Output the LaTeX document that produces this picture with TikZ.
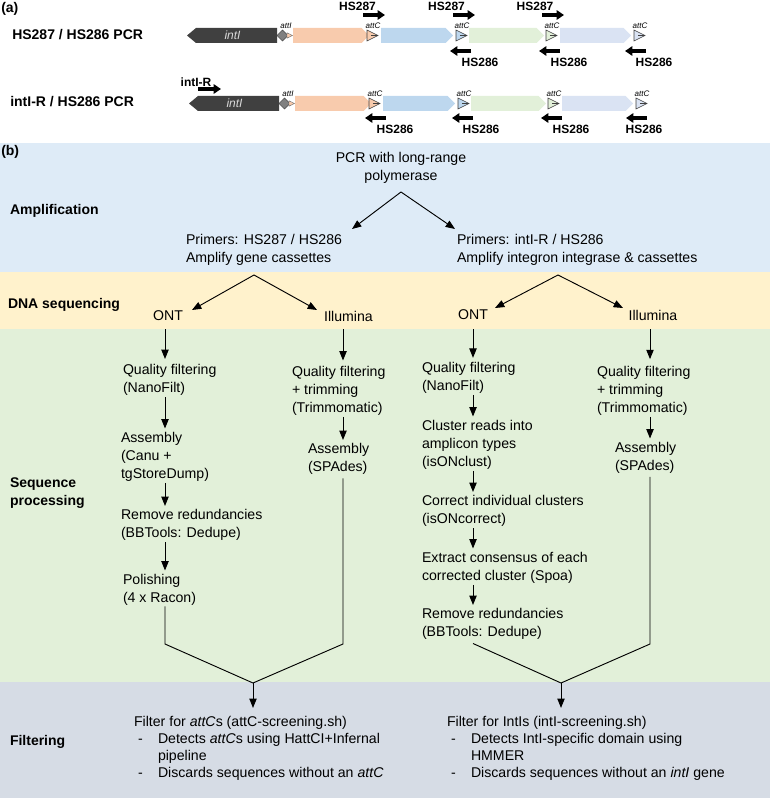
\documentclass[tikz,border=0pt]{standalone}
\usepackage{fontspec}
\setmainfont{Liberation Sans}
\usetikzlibrary{arrows.meta,calc}
\definecolor{ampC}{HTML}{DEEBF7}
\definecolor{seqC}{HTML}{FFF2CC}
\definecolor{procC}{HTML}{E2F0D9}
\definecolor{filtC}{HTML}{D6DCE5}
\definecolor{cOr}{HTML}{F8CBAD}
\definecolor{cBl}{HTML}{BDD7EE}
\definecolor{cGr}{HTML}{E2F0D9}
\definecolor{cLa}{HTML}{DAE3F3}
\definecolor{intC}{HTML}{404040}
\definecolor{attIC}{HTML}{808080}
\begin{document}
\begin{tikzpicture}[x=0.75pt,y=-0.75pt,
 txt/.style={inner sep=0pt,outer sep=0pt,font=\fontsize{10.6}{13.5}\selectfont,align=left,anchor=west},
 ftxt/.style={txt,font=\fontsize{10.6}{12.75}\selectfont},
 secl/.style={inner sep=0pt,outer sep=0pt,font=\fontsize{10.5}{13.5}\selectfont\bfseries,align=left,anchor=west},
 band/.style={inner sep=0pt,outer sep=0pt,minimum width=577.5pt,anchor=north west,draw=none},
 arr/.style={-{Triangle[length=7pt,width=5.5pt]},line width=0.7pt},
 va/.style={arr,shorten <=1.5pt,shorten >=2.5pt},
 ln/.style={line width=0.7pt},
 parr/.style={-{Triangle[length=5.5pt,width=7pt]},line width=2.3pt},
 plab/.style={inner sep=0pt,font=\fontsize{9}{10}\selectfont\bfseries},
 att/.style={inner sep=0pt,font=\fontsize{6}{7}\selectfont\itshape},
 intlab/.style={inner sep=0pt,font=\fontsize{9}{10}\selectfont\itshape,text=black!15},
 rowlab/.style={inner sep=0pt,font=\fontsize{10.5}{12}\selectfont\bfseries,anchor=west},
]
\useasboundingbox (0,0) rectangle (770,798);

% ---------------- (a) ----------------
\node[rowlab] (lbA) at (1,8.5) {(a)};
\node[rowlab] (rl1) at (12,34.5) {HS287 / HS286 PCR};
\node[rowlab] (rl2) at (10,101.5) {intI-R / HS286 PCR};

\foreach \r/\yy/\dx in {1/35.5/0,2/103.5/2}{
  \fill[intC] (187+\dx,\yy) -- (196+\dx,\yy-7.5) -- (277+\dx,\yy-7.5) -- (277+\dx,\yy+7.5) -- (196+\dx,\yy+7.5) -- cycle;
  \node[intlab] (intI\r) at (232.5+\dx,\yy) {intI};
  \foreach \xa/\xb/\cc in {293/369/cOr, 381/453/cBl, 469/544/cGr, 560/631/cLa}{
    \fill[\cc] (\xa+\dx,\yy-7.5) -- (\xb-7.5+\dx,\yy-7.5) -- (\xb+\dx,\yy) -- (\xb-7.5+\dx,\yy+7.5) -- (\xa+\dx,\yy+7.5) -- cycle;
  }
  \foreach \xt/\cc/\k in {367/cOr/1,456/cBl/2,546/cGr/3,634/cLa/4}{
    \filldraw[fill=\cc,draw=black!75,line width=0.45pt] (\xt+\dx,\yy-5.5) -- (\xt+11+\dx,\yy) -- (\xt+\dx,\yy+5.5) -- cycle;
    \draw[black!75,line width=0.45pt] (\xt+4+\dx,\yy) -- (\xt+10+\dx,\yy);
    \node[att] (attC\r\k) at (\xt+6+\dx,\yy-9.5) {attC};
  }
  \filldraw[fill=attIC,draw=black!70,line width=0.45pt] (277+\dx,\yy) -- (282.5+\dx,\yy-5.5) -- (288+\dx,\yy) -- (282.5+\dx,\yy+5.5) -- cycle;
  \filldraw[fill=cOr,draw=black!60,line width=0.3pt] (287+\dx,\yy-2.7) -- (292.5+\dx,\yy) -- (287+\dx,\yy+2.7) -- cycle;
  \node[att] (attI\r) at (286+\dx,\yy-9.5) {attI};
}

% primers row 1
\foreach \xl/\xs/\k in {357.5/363/1, 446.5/453/2, 535/542/3}{
  \node[plab] (pf\k) at (\xl,6) {HS287};
  \draw[parr] (\xs,15) -- (\xs+22,15);
}
\foreach \xl/\xs/\k in {480/471/1, 569/560/2, 654/646/3}{
  \node[plab] (pr\k) at (\xl,62) {HS286};
  \draw[parr] (\xs,51) -- (\xs-21,51);
}
% primers row 2
\node[plab] (pint) at (196,82) {intI-R};
\draw[parr] (198,89) -- (221,89);
\foreach \xl/\xs/\k in {395/386/1, 481/473/2, 571/562/3, 644/647/4}{
  \node[plab] (prr\k) at (\xl,129.5) {HS286};
  \draw[parr] (\xs,118) -- (\xs-21,118);
}

% ---------------- (b) ----------------
\node[band,fill=ampC,minimum height=96.75pt] (bAmp) at (0,143) {};
\node[band,fill=seqC,minimum height=42.75pt] (bSeq) at (0,272) {};
\node[band,fill=procC,minimum height=264.75pt] (bProc) at (0,329) {};
\node[band,fill=filtC,minimum height=87pt] (bFilt) at (0,682) {};

\node[rowlab] (lbB) at (1,152) {(b)};
\node[secl] (sAmp) at (10,211) {Amplification};
\node[secl] (sSeq) at (8,305) {DNA sequencing};
\node[secl] (sProc) at (10,493) {Sequence\\processing};
\node[secl] (sFilt) at (10,741.5) {Filtering};

% amplification
\node[txt,align=center,anchor=center] (pcr) at (401,167.4) {PCR with long-range\\polymerase};
\node[txt] (pr1) at (186,249.4) {Primers: HS287 / HS286\\Amplify gene cassettes};
\node[txt] (pr2) at (457,249.4) {Primers: intI-R / HS286\\Amplify integron integrase \& cassettes};
\coordinate (apP) at (401,192);
\coordinate (tP1) at (352,229);
\coordinate (tP2) at (455,229);
\draw[arr] (apP) -- (tP1);
\draw[arr] (apP) -- (tP2);

% sequencing
\node[txt,anchor=center] (ontL) at (168,316) {ONT};
\node[txt,anchor=center] (illL) at (348.5,316) {Illumina};
\node[txt,anchor=center] (ontR) at (473,315) {ONT};
\node[txt,anchor=center] (illR) at (653,315) {Illumina};
\coordinate (apL) at (254,275);
\coordinate (apR) at (558,275);
\coordinate (tL1) at (192,310);
\coordinate (tL2) at (317,310);
\coordinate (tR1) at (495,308);
\coordinate (tR2) at (623,308);
\draw[arr] (apL) -- (tL1);
\draw[arr] (apL) -- (tL2);
\draw[arr] (apR) -- (tR1);
\draw[arr] (apR) -- (tR2);

% processing columns
\coordinate (cA) at (165,0);
\coordinate (cB) at (343,0);
\coordinate (cC) at (473,0);
\coordinate (cD) at (650,0);
\coordinate (kk) at (0,644);

\node[txt] (qfL) at (123,379.9) {Quality filtering\\(NanoFilt)};
\node[txt] (asL) at (121,456.4) {Assembly\\(Canu +\\tgStoreDump)};
\node[txt] (rrL) at (121,524.9) {Remove redundancies\\(BBTools: Dedupe)};
\node[txt] (poL) at (123,589.4) {Polishing\\(4 x Racon)};

\node[txt] (qtL) at (292,390.4) {Quality filtering\\+ trimming\\(Trimmomatic)};
\node[txt] (spL) at (308,458.9) {Assembly\\(SPAdes)};

\node[txt] (qfR) at (422,377.4) {Quality filtering\\(NanoFilt)};
\node[txt] (clR) at (422,444.4) {Cluster reads into\\amplicon types\\(isONclust)};
\node[txt] (coR) at (422,510.9) {Correct individual clusters\\(isONcorrect)};
\node[txt] (exR) at (422,567.4) {Extract consensus of each\\corrected cluster (Spoa)};
\node[txt] (rrR) at (422,623.9) {Remove redundancies\\(BBTools: Dedupe)};

\node[txt] (qtR) at (597,390.4) {Quality filtering\\+ trimming\\(Trimmomatic)};
\node[txt] (spR) at (615,457.4) {Assembly\\(SPAdes)};

% vertical arrows
\draw[arr,shorten >=4pt] (cA |- bProc.north) -- (qfL.north -| cA);
\draw[va] (qfL.south -| cA) -- (asL.north -| cA);
\draw[va] (asL.south -| cA) -- (rrL.north -| cA);
\draw[va] (rrL.south -| cA) -- (poL.north -| cA);
\draw[arr,shorten >=4pt] (cB |- bProc.north) -- (qtL.north -| cB);
\draw[va] (qtL.south -| cB) -- (spL.north -| cB);
\draw[arr,shorten >=3pt] (cC |- bProc.north) -- (qfR.north -| cC);
\draw[va] (qfR.south -| cC) -- (clR.north -| cC);
\draw[va] (clR.south -| cC) -- (coR.north -| cC);
\draw[va] (coR.south -| cC) -- (exR.north -| cC);
\draw[va] (exR.south -| cC) -- (rrR.north -| cC);
\draw[arr,shorten >=5pt] (cD |- bProc.north) -- (qtR.north -| cD);
\draw[va] (qtR.south -| cD) -- (spR.north -| cD);

% merges
\coordinate (mL) at (253,683);
\coordinate (mR) at (561,683);
\draw[ln] ([yshift=-1pt]poL.south -| cA) -- (cA |- kk) -- (mL);
\draw[ln] ([yshift=-3pt]spL.south -| cB) -- (cB |- kk) -- (mL);
\draw[ln] ([yshift=-3pt]rrR.south -| cC) -- (mR);
\draw[ln] ([yshift=-3pt]spR.south -| cD) -- (cD |- kk) -- (mR);

% filtering
\node[ftxt] (fiL) at (134,748) {Filter for \textit{attC}s (attC-screening.sh)\\
\hspace*{3pt}\makebox[15pt][l]{-}Detects \textit{attC}s using HattCI+Infernal\\
\hspace*{18pt}pipeline\\
\hspace*{3pt}\makebox[15pt][l]{-}Discards sequences without an \textit{attC}};
\node[ftxt] (fiR) at (447,748) {Filter for IntIs (intI-screening.sh)\\
\hspace*{3pt}\makebox[15pt][l]{-}Detects IntI-specific domain using\\
\hspace*{18pt}HMMER\\
\hspace*{3pt}\makebox[15pt][l]{-}Discards sequences without an \textit{intI} gene};
\draw[arr,shorten >=6pt] (mL) -- (fiL.north -| mL);
\draw[arr,shorten >=6pt] (mR) -- (fiR.north -| mR);
\end{tikzpicture}
\end{document}
